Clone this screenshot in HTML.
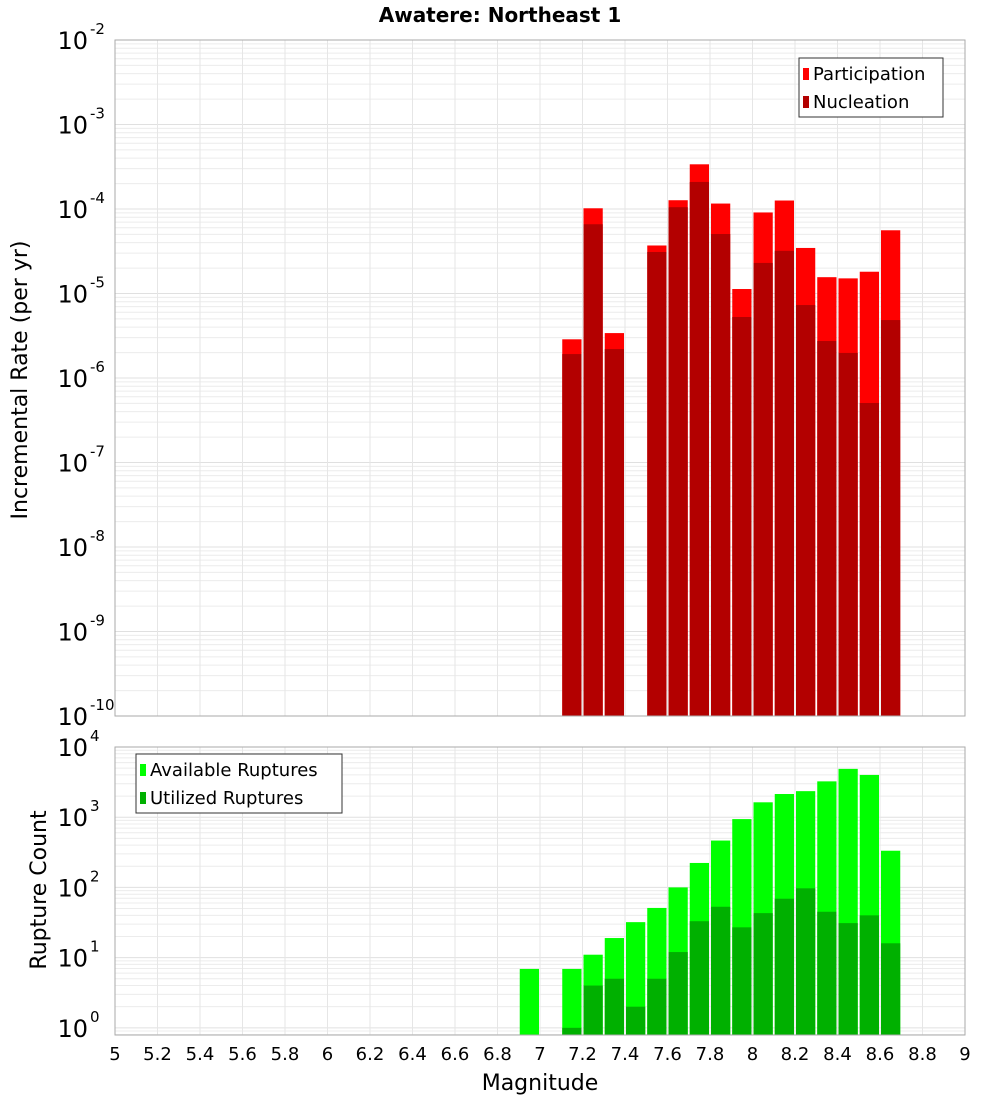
<!DOCTYPE html>
<html><head><meta charset="utf-8"><style>
body{margin:0;background:#fff;}
svg text{font-family:"DejaVu Sans","Liberation Sans",sans-serif;}
</style></head><body>
<svg id="chart" width="1000" height="1100" xmlns="http://www.w3.org/2000/svg">
<rect width="1000" height="1100" fill="#fff"/>
<text x="500" y="22" text-anchor="middle" font-size="20" font-weight="bold">Awatere: Northeast 1</text>
<g id="top"></g><g id="bot"></g>
<text transform="translate(27,380) rotate(-90)" text-anchor="middle" font-size="22">Incremental Rate (per yr)</text>
<text transform="translate(46,890) rotate(-90)" text-anchor="middle" font-size="22">Rupture Count</text>
<text x="540" y="1090" text-anchor="middle" font-size="22">Magnitude</text>
</svg>
<script>
const mags=[7.15,7.25,7.35,7.55,7.65,7.75,7.85,7.95,8.05,8.15,8.25,8.35,8.45,8.55,8.65];
const participation=[2.87e-6,1.02e-4,3.4e-6,3.7e-5,1.27e-4,3.38e-4,1.16e-4,1.13e-5,9.1e-5,1.26e-4,3.46e-5,1.56e-5,1.51e-5,1.81e-5,5.6e-5];
const nucleation=[1.92e-6,6.6e-5,2.2e-6,3.1e-5,1.05e-4,2.09e-4,5.06e-5,5.27e-6,2.3e-5,3.2e-5,7.3e-6,2.74e-6,1.98e-6,5.06e-7,4.85e-6];
const countMags=[6.95,7.15,7.25,7.35,7.45,7.55,7.65,7.75,7.85,7.95,8.05,8.15,8.25,8.35,8.45,8.55,8.65];
const available=[6.9,6.9,11,19,32,51,100,223,465,940,1630,2140,2350,3240,4880,4000,333];
const utilized=[0,1,4,5,2,5,12,33,53,27,43,69,97,45,31,40,16];
const xTicks=["5","5.2","5.4","5.6","5.8","6","6.2","6.4","6.6","6.8","7","7.2","7.4","7.6","7.8","8","8.2","8.4","8.6","8.8","9"];
const topDecades=[-10,-9,-8,-7,-6,-5,-4,-3,-2];
const botDecades=[0,1,2,3,4];

const NS="http://www.w3.org/2000/svg";
const L=115,R=965;
function X(m){return L+(m-5)/4*(R-L);}
function mk(p,t,a){const e=document.createElementNS(NS,t);for(const k in a)e.setAttribute(k,a[k]);p.appendChild(e);return e;}
function panel(g,top,bottom,lmin,lmax,name){
  const Y=v=>bottom-(Math.log10(v)-lmin)/(lmax-lmin)*(bottom-top);
  // grid
  for(let d=Math.floor(lmin);d<lmax;d++)for(let k=1;k<10;k++){
    const lv=d+Math.log10(k); if(lv<lmin||lv>lmax)continue;
    const y=Y(Math.pow(10,lv));
    const ln=mk(g,'line',{x1:L,x2:R,y1:y,y2:y,stroke:k==1?'#e0e0e0':'#ececec','stroke-width':1});
    
    
  }
  xTicks.forEach(t=>{const x=X(+t);
    const ln=mk(g,'line',{x1:x,x2:x,y1:top,y2:bottom,stroke:'#e6e6e6','stroke-width':1});
    
    });
  return Y;
}
function bar(g,m,v,Y,bottom,color,name){
  if(!v)return;
  const w=(R-L)/40, x=X(m)-w/2+1;
  const y=Math.max(Y(v),0);
  const r=mk(g,'rect',{x:x,y:y,width:w-2,height:bottom-y,fill:color});
  
  
}
function ylabels(g,decs,Y,name){
  decs.forEach(d=>{const y=Y(Math.pow(10,d));
    const t=mk(g,'text',{x:88,y:y+9,'text-anchor':'end','font-size':24});t.textContent='10';
    
    
    const s=mk(g,'text',{x:90,y:y-6,'text-anchor':'start','font-size':15});s.textContent=String(d);
    
    });
}
function legend(g,x,y,w,items,name){
  const b=mk(g,'rect',{x:x,y:y,width:w,height:59,fill:'#fff',stroke:'#333','stroke-width':1});
  
  
  items.forEach((it,i)=>{
    const s=mk(g,'rect',{x:x+4,y:y+10+i*28,width:6,height:12,fill:it[1]});
    
    
    const t=mk(g,'text',{x:x+14,y:y+22+i*28,'font-size':18});t.textContent=it[0];
    
    
  });
}
// top panel
const gt=document.getElementById('top');
const T0=40,T1=716;
const Yt=panel(gt,T0,T1,-10,-2,'top');
mags.forEach((m,i)=>bar(gt,m,participation[i],Yt,T1,'#ff0000','participation-bar'));
mags.forEach((m,i)=>bar(gt,m,nucleation[i],Yt,T1,'#b30000','nucleation-bar'));
let f=mk(gt,'rect',{x:L,y:T0,width:R-L,height:T1-T0,fill:'none',stroke:'#aaa'});

ylabels(gt,topDecades,Yt,'top-y');
legend(gt,799,58,144,[['Participation','#ff0000'],['Nucleation','#b30000']],'top-legend');
// bottom panel
const gb=document.getElementById('bot');
const B0=747,B1=1035;
const lminB=Math.log10(0.79), lmaxB=4;
const Yb=panel(gb,B0,B1,lminB,lmaxB,'bottom');
countMags.forEach((m,i)=>bar(gb,m,available[i],Yb,B1,'#00ff00','available-bar'));
countMags.forEach((m,i)=>bar(gb,m,utilized[i],Yb,B1,'#00b000','utilized-bar'));
f=mk(gb,'rect',{x:L,y:B0,width:R-L,height:B1-B0,fill:'none',stroke:'#aaa'});

ylabels(gb,botDecades,Yb,'bottom-y');
legend(gb,136,754,206,[['Available Ruptures','#00ff00'],['Utilized Ruptures','#00b000']],'bottom-legend');
xTicks.forEach(t=>{const e=mk(gb,'text',{x:X(+t),y:1060,'text-anchor':'middle','font-size':18});e.textContent=t;
  
  });
</script>
</body></html>
